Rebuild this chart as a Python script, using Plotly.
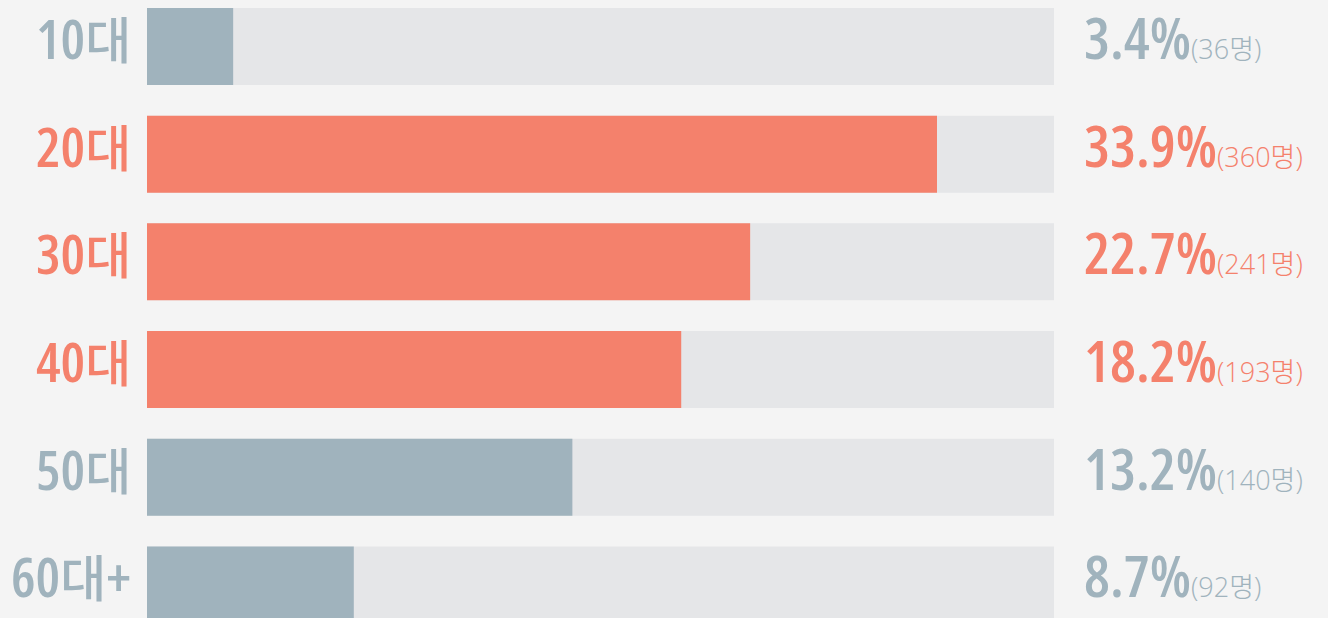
import plotly.graph_objects as go

categories = ["10대", "20대", "30대", "40대", "50대", "60대+"]
percents = [3.4, 33.9, 22.7, 18.2, 13.2, 8.7]
counts = [36, 360, 241, 193, 140, 92]
bar_fill = [9.5, 87.1, 66.5, 58.9, 46.9, 22.8]
highlight = [False, True, True, True, False, False]

GREY = "#a0b3bd"
CORAL = "#f4816c"
TRACK = "#e5e6e8"
BG = "#f4f4f4"

ys = list(range(len(categories)))
colors = [CORAL if h else GREY for h in highlight]

fig = go.Figure()
fig.add_trace(go.Bar(y=ys, x=[100] * len(ys), orientation="h", width=0.715,
                     marker=dict(color=TRACK, line=dict(width=0)), hoverinfo="skip"))
fig.add_trace(go.Bar(y=ys, x=bar_fill, orientation="h", width=0.715,
                     marker=dict(color=colors, line=dict(width=0)),
                     customdata=list(zip(categories, percents, counts)),
                     hovertemplate="%{customdata[0]}: %{customdata[1]}% (%{customdata[2]}명)<extra></extra>"))

FONT = "Open Sans, Noto Sans CJK KR, sans-serif"


def left_label(cat):
    parts = []
    for ch in cat:
        if ch == "대":
            parts.append("<span style='font-size:50px;font-weight:500'>대</span>")
        else:
            parts.append(f"<span style='font-stretch:75%'>{ch}</span>")
    return "".join(parts)


for i, (cat, p, c, col) in enumerate(zip(categories, percents, counts, colors)):
    fig.add_annotation(x=-0.0154, xref="paper", y=i, yref="y", xanchor="right", yanchor="middle",
                       text=left_label(cat), showarrow=False, yshift=9,
                       font=dict(family=FONT, size=55, color=col, weight=600))
    fig.add_annotation(x=1.0309, xref="paper", y=i, yref="y", xanchor="left", yanchor="middle",
                       text=(f"<span style='font-stretch:75%'>{p}%</span>"
                             f"<span style='font-size:27px;font-weight:300'>({c}명)</span>"),
                       showarrow=False, yshift=10,
                       font=dict(family=FONT, size=58, color=col, weight=600))

fig.update_layout(
    width=1328, height=618,
    margin=dict(l=147, r=274, t=0, b=0),
    paper_bgcolor=BG, plot_bgcolor=BG,
    barmode="overlay", showlegend=False,
    xaxis=dict(range=[0, 100], visible=False, fixedrange=True),
    yaxis=dict(range=[5.3073, -0.4313], visible=False, fixedrange=True),
)
fig.write_html("out.html", config={"displayModeBar": False},
               post_script="document.body.style.margin='0';document.body.style.background='#f4f4f4';")
